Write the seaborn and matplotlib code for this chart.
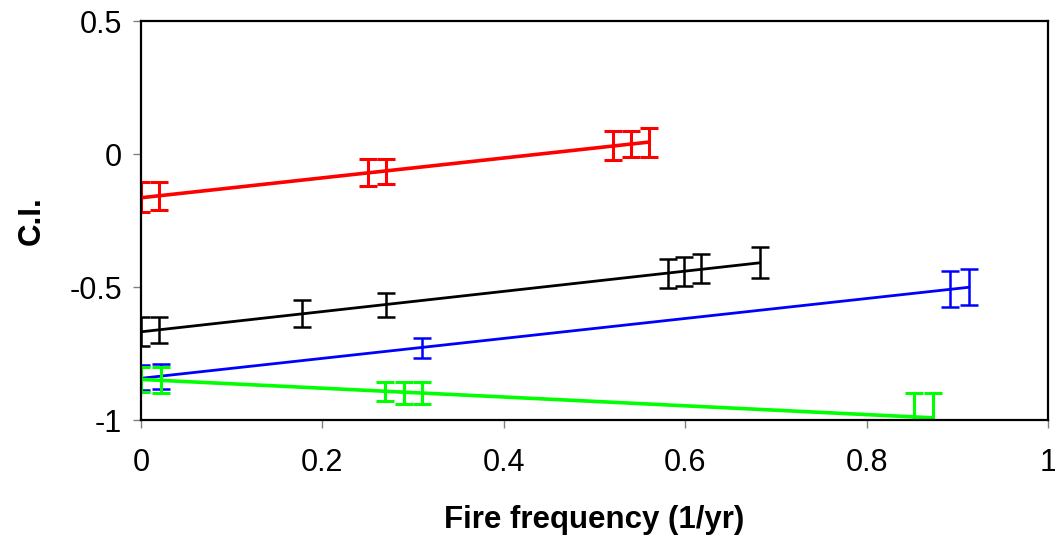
import matplotlib
matplotlib.use("Agg")
import matplotlib.pyplot as plt
import seaborn as sns

# values
red_x = [0.0, 0.02, 0.25, 0.27, 0.52, 0.54, 0.56]
red_y = [-0.162, -0.159, -0.07, -0.066, 0.033, 0.037, 0.043]
red_err = [0.055, 0.052, 0.051, 0.047, 0.054, 0.05, 0.055]

black_x = [0.0, 0.02, 0.178, 0.27, 0.581, 0.599, 0.617, 0.682]
black_y = [-0.667, -0.662, -0.599, -0.568, -0.45, -0.442, -0.431, -0.408]
black_err = [0.055, 0.05, 0.05, 0.046, 0.055, 0.054, 0.055, 0.06]

blue_x = [0.0, 0.022, 0.31, 0.892, 0.913]
blue_y = [-0.84, -0.837, -0.729, -0.509, -0.5]
blue_err = [0.048, 0.048, 0.036, 0.068, 0.068]

green_x = [0.0, 0.022, 0.269, 0.29, 0.31, 0.852, 0.873]
green_y = [-0.848, -0.85, -0.892, -0.897, -0.897, -0.99, -0.99]
green_err = [0.048, 0.05, 0.036, 0.041, 0.041, 0.09, 0.09]

x_ticks = [0, 0.2, 0.4, 0.6, 0.8, 1]
x_ticklabels = ["0", "0.2", "0.4", "0.6", "0.8", "1"]
y_ticks = [-1, -0.5, 0, 0.5]
y_ticklabels = ["-1", "-0.5", "0", "0.5"]

sns.set_style("white")
plt.rcParams['font.family'] = ['Liberation Sans', 'DejaVu Sans']
plt.rcParams['axes.unicode_minus'] = False
plt.rcParams['text.color'] = 'black'
plt.rcParams['axes.labelcolor'] = 'black'

fig = plt.figure(figsize=(10.55, 5.43), dpi=100)
ax = fig.add_axes([0.1336, 0.2265, 0.8597, 0.7348])

series = [
    (black_x, black_y, black_err, "black", 2.0, 1.8),
    (blue_x, blue_y, blue_err, "#0000ff", 2.0, 1.8),
    (red_x, red_y, red_err, "#ff0000", 2.6, 2.2),
    (green_x, green_y, green_err, "#00ff00", 2.6, 2.2),
]

for xs, ys, errs, col, lw, ew in series:
    # linear trendline over the data range
    sns.regplot(x=xs, y=ys, ax=ax, scatter=False, ci=None, truncate=True,
                color=col, line_kws={'linewidth': lw})
    ax.errorbar(xs, ys, yerr=errs, fmt='none', ecolor=col, elinewidth=ew,
                capsize=6.5, capthick=ew)

ax.set_xlim(0, 1)
ax.set_ylim(-1, 0.5)
ax.set_xticks(x_ticks)
ax.set_xticklabels(x_ticklabels)
ax.set_yticks(y_ticks)
ax.set_yticklabels(y_ticklabels)
ax.tick_params(axis='both', labelsize=22, direction='out', length=5.8, width=1,
               color='#808080', labelcolor='black', left=True, bottom=True)
ax.tick_params(axis='x', pad=14)
ax.tick_params(axis='y', pad=8)
for s in ax.spines.values():
    s.set_visible(True)
    s.set_color('black')
    s.set_linewidth(1.6)

ax.set_xlabel('Fire frequency (1/yr)', fontsize=22.5, fontweight='bold', labelpad=20)
ax.set_ylabel('C.I.', fontsize=22.5, fontweight='bold', labelpad=16)

fig.savefig('out.png', dpi=100)
